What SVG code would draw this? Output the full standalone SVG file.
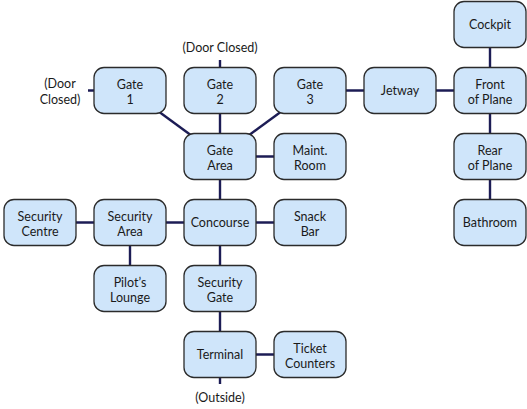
<svg xmlns="http://www.w3.org/2000/svg" width="527" height="409" viewBox="0 0 527 409">
<style>
.n rect{fill:#cfe5fa;stroke:#2b2b2b;stroke-width:1.3}
text{font-family:Lato,"Liberation Sans",sans-serif;font-size:12.5px;fill:#1a1a1a;text-anchor:middle}
.c line{stroke:#1c1c55;stroke-width:2.4}
</style>
<rect width="527" height="409" fill="#ffffff"/>
<g class="c" id="connectors">
<line x1="130" y1="90.5" x2="220" y2="156.5"/>
<line x1="220" y1="60" x2="220" y2="156.5"/>
<line x1="310" y1="90.5" x2="220" y2="156.5"/>
<line x1="310" y1="90.5" x2="490" y2="90.5"/>
<line x1="490" y1="24.5" x2="490" y2="222.5"/>
<line x1="220" y1="156.5" x2="310" y2="156.5"/>
<line x1="220" y1="156.5" x2="220" y2="384"/>
<line x1="40" y1="222.5" x2="310" y2="222.5"/>
<line x1="130" y1="222.5" x2="130" y2="288.5"/>
<line x1="220" y1="354.5" x2="310" y2="354.5"/>
<line x1="88" y1="90.5" x2="130" y2="90.5"/>
</g>
<g class="n" id="gate1"><rect x="94" y="67.5" width="72" height="46" rx="10"/><text x="130" y="88.5">Gate<tspan x="130" dy="15">1</tspan></text></g>
<g class="n" id="gate2"><rect x="184" y="67.5" width="72" height="46" rx="10"/><text x="220" y="88.5">Gate<tspan x="220" dy="15">2</tspan></text></g>
<g class="n" id="gate3"><rect x="274" y="67.5" width="72" height="46" rx="10"/><text x="310" y="88.5">Gate<tspan x="310" dy="15">3</tspan></text></g>
<g class="n" id="jetway"><rect x="364" y="67.5" width="72" height="46" rx="10"/><text x="400" y="95">Jetway</text></g>
<g class="n" id="cockpit"><rect x="454" y="1.5" width="72" height="46" rx="10"/><text x="490" y="29">Cockpit</text></g>
<g class="n" id="front"><rect x="454" y="67.5" width="72" height="46" rx="10"/><text x="490" y="88.5">Front<tspan x="490" dy="15">of Plane</tspan></text></g>
<g class="n" id="rear"><rect x="454" y="133.5" width="72" height="46" rx="10"/><text x="490" y="154.5">Rear<tspan x="490" dy="15">of Plane</tspan></text></g>
<g class="n" id="bathroom"><rect x="454" y="199.5" width="72" height="46" rx="10"/><text x="490" y="227">Bathroom</text></g>
<g class="n" id="gatearea"><rect x="184" y="133.5" width="72" height="46" rx="10"/><text x="220" y="154.5">Gate<tspan x="220" dy="15">Area</tspan></text></g>
<g class="n" id="maint"><rect x="274" y="133.5" width="72" height="46" rx="10"/><text x="310" y="154.5">Maint.<tspan x="310" dy="15">Room</tspan></text></g>
<g class="n" id="seccentre"><rect x="4" y="199.5" width="72" height="46" rx="10"/><text x="40" y="220.5">Security<tspan x="40" dy="15">Centre</tspan></text></g>
<g class="n" id="secarea"><rect x="94" y="199.5" width="72" height="46" rx="10"/><text x="130" y="220.5">Security<tspan x="130" dy="15">Area</tspan></text></g>
<g class="n" id="concourse"><rect x="184" y="199.5" width="72" height="46" rx="10"/><text x="220" y="227">Concourse</text></g>
<g class="n" id="snack"><rect x="274" y="199.5" width="72" height="46" rx="10"/><text x="310" y="220.5">Snack<tspan x="310" dy="15">Bar</tspan></text></g>
<g class="n" id="pilot"><rect x="94" y="265.5" width="72" height="46" rx="10"/><text x="130" y="286.5">Pilot’s<tspan x="130" dy="15">Lounge</tspan></text></g>
<g class="n" id="secgate"><rect x="184" y="265.5" width="72" height="46" rx="10"/><text x="220" y="286.5">Security<tspan x="220" dy="15">Gate</tspan></text></g>
<g class="n" id="terminal"><rect x="184" y="331.5" width="72" height="46" rx="10"/><text x="220" y="359">Terminal</text></g>
<g class="n" id="ticket"><rect x="274" y="331.5" width="72" height="46" rx="10"/><text x="310" y="352.5">Ticket<tspan x="310" dy="15">Counters</tspan></text></g>
<g id="labels">
<text x="220" y="52">(Door Closed)</text>
<text x="60" y="88">(Door<tspan x="60" dy="15.5">Closed)</tspan></text>
<text x="220" y="401.5">(Outside)</text>
</g>
</svg>
